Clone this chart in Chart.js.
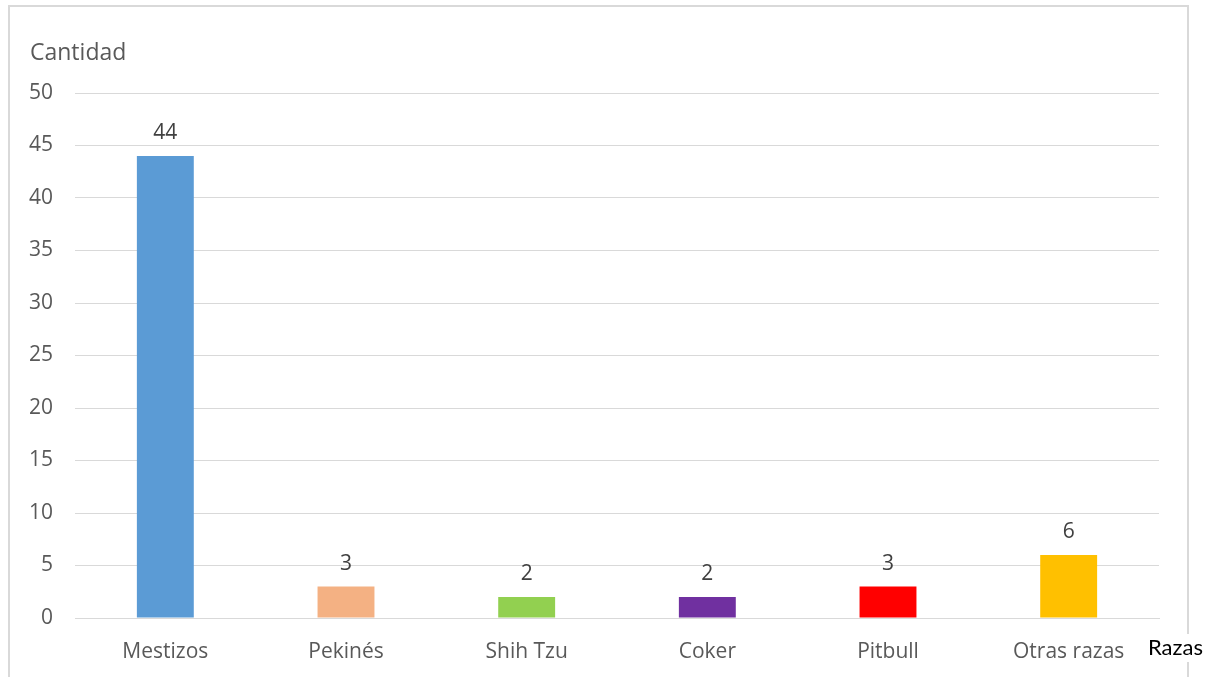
<!DOCTYPE html>
<html>
<head>
<meta charset="utf-8">
<script src="https://cdn.jsdelivr.net/npm/chart.js@4/dist/chart.umd.min.js"></script>
<style>
  html, body { margin: 0; padding: 0; background: #ffffff; }
  #wrap { width: 1221px; height: 677px; position: relative; }
</style>
</head>
<body>
<div id="wrap"><canvas id="c" width="1221" height="677"></canvas></div>
<script>
// Razas de perros y cantidad de cada una
const razas = ['Mestizos', 'Pekinés', 'Shih Tzu', 'Coker', 'Pitbull', 'Otras razas'];
const cantidad = [44, 3, 2, 2, 3, 6];
const colores = ['#5B9BD5', '#F4B183', '#92D050', '#7030A0', '#FF0000', '#FFC000'];
const yTicks = [0, 5, 10, 15, 20, 25, 30, 35, 40, 45, 50];
const tituloY = 'Cantidad';
const tituloX = 'Razas';

const FONT = '"Open Sans", "Noto Sans", sans-serif';
const GRIS = '#595959';

// Marco, títulos de ejes y etiquetas de valor
const decor = {
  id: 'decor',
  beforeDraw(chart) {
    const ctx = chart.ctx;
    ctx.save();
    ctx.fillStyle = '#ffffff';
    ctx.fillRect(0, 0, chart.width, chart.height);
    ctx.strokeStyle = '#D9D9D9';
    ctx.lineWidth = 2;
    ctx.strokeRect(9, 6, 1179, 700);
    ctx.restore();
  },
  afterDatasetsDraw(chart) {
    const ctx = chart.ctx;
    const meta = chart.getDatasetMeta(0);
    ctx.save();
    ctx.font = '21px ' + FONT;
    ctx.fillStyle = '#404040';
    ctx.textAlign = 'center';
    ctx.textBaseline = 'alphabetic';
    meta.data.forEach((bar, i) => {
      ctx.fillText(String(chart.data.datasets[0].data[i]), bar.x, bar.y - 17);
    });
    ctx.restore();
  },
  afterDraw(chart) {
    const ctx = chart.ctx;
    ctx.save();
    ctx.font = '23px ' + FONT;
    ctx.fillStyle = GRIS;
    ctx.textAlign = 'left';
    ctx.textBaseline = 'middle';
    ctx.fillText(tituloY, 30, 53);
    ctx.font = '22px Lato, "Liberation Sans", sans-serif';
    const w = ctx.measureText(tituloX).width;
    ctx.fillStyle = '#ffffff';
    ctx.fillRect(1146, 634, w + 4, 28);
    ctx.fillStyle = '#000000';
    ctx.fillText(tituloX, 1148, 648);
    ctx.restore();
  }
};

new Chart(document.getElementById('c'), {
  type: 'bar',
  data: {
    labels: razas,
    datasets: [{
      data: cantidad,
      backgroundColor: colores,
      borderWidth: 0,
      categoryPercentage: 0.315,
      barPercentage: 1
    }]
  },
  options: {
    responsive: false,
    animation: false,
    devicePixelRatio: 1,
    layout: { padding: { top: 93, right: 62, left: 0, bottom: 0 } },
    plugins: { legend: { display: false }, tooltip: { enabled: false } },
    scales: {
      x: {
        grid: { display: false, drawTicks: false },
        border: { color: '#D9D9D9', width: 1 },
        ticks: { color: GRIS, font: { family: FONT, size: 21 }, padding: 21, maxRotation: 0 },
        afterFit(s) { s.height = 59; }
      },
      y: {
        min: 0, max: 50,
        afterBuildTicks(s) { s.ticks = yTicks.map(v => ({ value: v })); },
        grid: { color: '#D9D9D9', lineWidth: 1, drawTicks: false },
        border: { display: false },
        ticks: { color: GRIS, font: { family: FONT, size: 21 }, padding: 22 },
        afterFit(s) { s.width = 75; }
      }
    }
  },
  plugins: [decor]
});
</script>
</body>
</html>
